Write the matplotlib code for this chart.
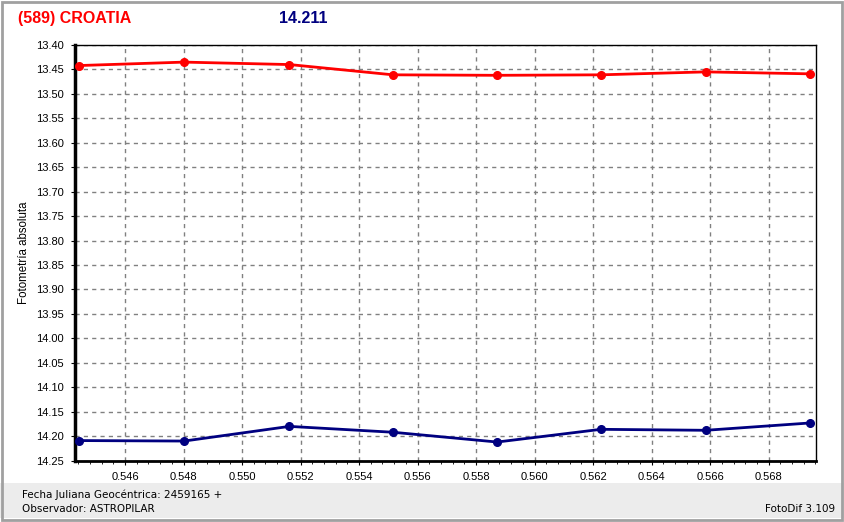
"""FotoDif light curve - (589) Croatia"""
import matplotlib
matplotlib.use("Agg")
import matplotlib.pyplot as plt
from matplotlib.ticker import MultipleLocator, AutoMinorLocator, FormatStrFormatter
import matplotlib.patches as mpatches

plt.rcParams["font.family"] = ["Liberation Sans", "DejaVu Sans"]

# datos
jd = [0.54444, 0.54802, 0.55162, 0.55516, 0.55872, 0.56227, 0.56585, 0.56942]
mag_asteroide = [13.442, 13.435, 13.440, 13.461, 13.462, 13.461, 13.455, 13.459]
mag_comparacion = [14.209, 14.210, 14.180, 14.192, 14.212, 14.186, 14.188, 14.173]

fig = plt.figure(figsize=(8.44, 5.22), dpi=100)
fig.patch.set_facecolor("white")

# panel gris inferior y marco de ventana
fig.patches.append(mpatches.Rectangle((0, 0.008), 1, 0.067, transform=fig.transFigure,
                                      facecolor="#ececec", edgecolor="none", zorder=0))
fig.patches.append(mpatches.Rectangle((0.002, 0.004), 0.996, 0.992, transform=fig.transFigure,
                                      facecolor="none", edgecolor="#a0a0a0", linewidth=2, zorder=5))

ax = fig.add_axes([0.0889, 0.1176, 0.8776, 0.7962])
ax.plot(jd, mag_asteroide, color="#ff0000", linewidth=2, marker="o", markersize=5.5, zorder=3)
ax.plot(jd, mag_comparacion, color="#000080", linewidth=2, marker="o", markersize=5.5, zorder=3)

ax.set_xlim(0.54429, 0.56961)
ax.set_ylim(14.25, 13.40)
ax.xaxis.set_major_locator(MultipleLocator(0.002))
ax.xaxis.set_minor_locator(AutoMinorLocator(5))
ax.yaxis.set_major_locator(MultipleLocator(0.05))
ax.xaxis.set_major_formatter(FormatStrFormatter("%.3f"))
ax.yaxis.set_major_formatter(FormatStrFormatter("%.2f"))
ax.tick_params(axis="both", labelsize=8, length=3, direction="out", pad=5)
ax.tick_params(axis="x", which="minor", length=2)
ax.grid(True, color="#808080", linestyle=(0, (3, 3)), linewidth=1)
for s in ["top", "right"]:
    ax.spines[s].set_linewidth(1)
ax.spines["left"].set_linewidth(2.5)
ax.spines["bottom"].set_linewidth(2)
ax.set_ylabel("Fotometría absoluta", fontsize=8.3, labelpad=4)

fig.text(0.021, 0.965, "(589) CROATIA", color="#ff0000", fontsize=11.5,
         fontweight="bold", va="center")
fig.text(0.331, 0.965, "14.211", color="#000080", fontsize=11.5,
         fontweight="bold", va="center")

fig.text(0.026, 0.053, "Fecha Juliana Geocéntrica: 2459165 +", fontsize=7.5,
         family=["DejaVu Sans"], va="center")
fig.text(0.026, 0.024, "Observador: ASTROPILAR", fontsize=7.5,
         family=["DejaVu Sans"], va="center")
fig.text(0.989, 0.024, "FotoDif 3.109", fontsize=7.5, family=["DejaVu Sans"],
         va="center", ha="right")

fig.savefig("out.png", dpi=100)
print("saved out.png")
